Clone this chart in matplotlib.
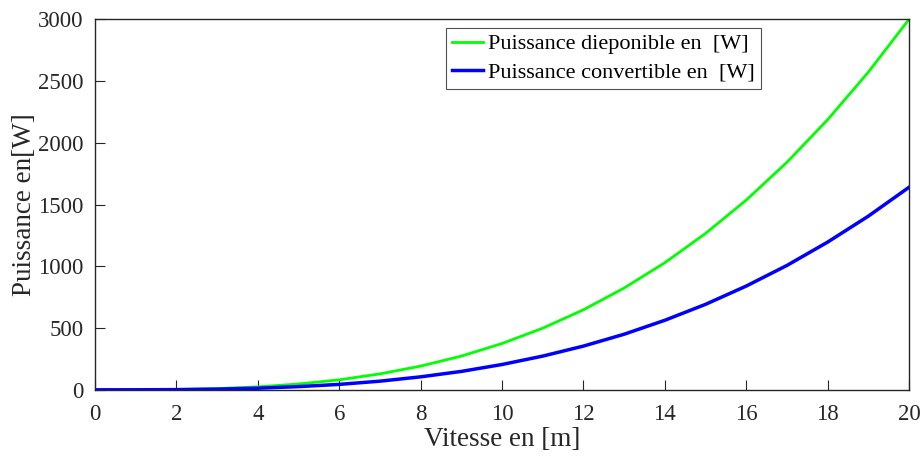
import matplotlib
matplotlib.use("Agg")
import matplotlib.pyplot as plt

vitesse = [0, 1, 2, 3, 4, 5, 6, 7, 8, 9, 10, 11, 12, 13, 14, 15, 16, 17, 18, 19, 20]
p_disponible = [0, 0.4, 3, 10, 24, 47, 81, 129, 192, 273, 375, 499, 648, 824, 1029,
                1266, 1536, 1842, 2187, 2572, 3000]
p_convertible = [0, 0.2, 1.6, 5.5, 13, 26, 44, 70, 105, 149, 205, 273, 354, 450, 563,
                 692, 840, 1007, 1196, 1406, 1640]

plt.rcParams['font.family'] = ['Liberation Serif', 'DejaVu Serif']

fig = plt.figure(figsize=(9.22, 4.57), dpi=100)
ax = fig.add_axes([0.103, 0.147, 0.883, 0.811])
ax.plot(vitesse, p_disponible, color='#00ff00', lw=2, label='Puissance dieponible en  [W]')
ax.plot(vitesse, p_convertible, color='#0000ff', lw=2.5, label='Puissance convertible en  [W]')
ax.set_xlim(0, 20)
ax.set_ylim(0, 3000)
ax.set_xticks(range(0, 21, 2))
ax.set_yticks(range(0, 3001, 500))
ax.tick_params(direction='in', top=False, right=False, labelsize=16.5, length=7, width=0.8, colors='#262626')
ax.tick_params(axis='x', pad=10)
ax.tick_params(axis='y', pad=8)
for s in ax.spines.values():
    s.set_linewidth(1.0)
    s.set_color('#262626')
ax.set_xlabel('Vitesse en [m]', fontsize=19.5, color='#262626', labelpad=2)
ax.set_ylabel('Puissance en[W]', fontsize=19.5, color='#262626', labelpad=1)
leg = ax.legend(loc='upper left', bbox_to_anchor=(0.431, 0.977), fontsize=16, frameon=True,
                fancybox=False, edgecolor='#262626', handlelength=1.4, handletextpad=0.2,
                borderpad=0.28, labelspacing=0.33, borderaxespad=0)
leg.get_frame().set_linewidth(0.8)
fig.savefig('out.png', dpi=100)
